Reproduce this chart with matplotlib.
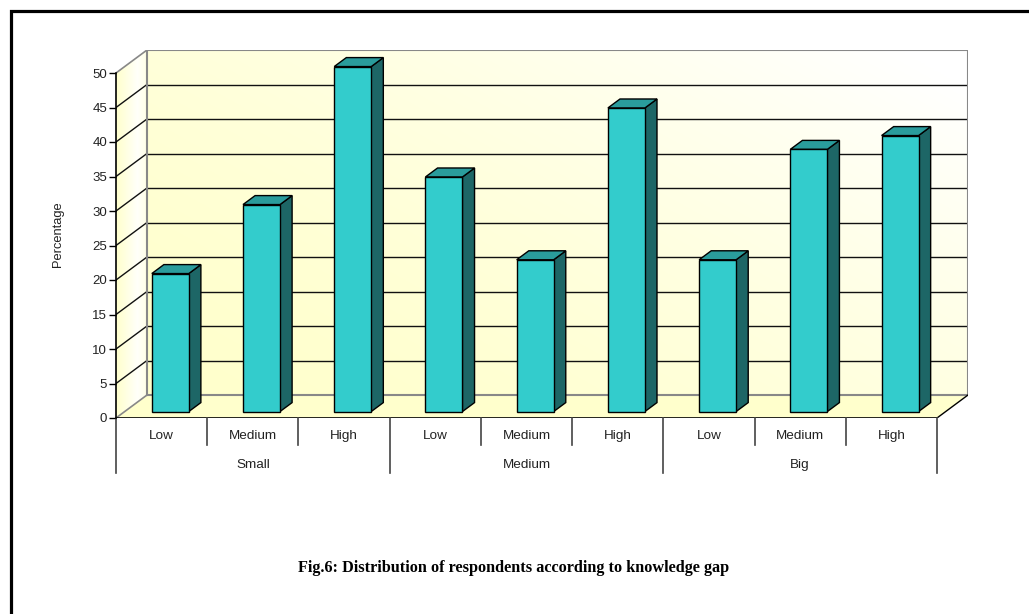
import numpy as np
import matplotlib
matplotlib.use('Agg')
import matplotlib.pyplot as plt
from matplotlib.patches import Polygon
from matplotlib.lines import Line2D

plt.rcParams['font.family'] = ['Liberation Sans', 'DejaVu Sans']

# data
groups = ['Small', 'Medium', 'Big']
levels = ['Low', 'Medium', 'High']
percentages = [20, 30, 50, 34, 22, 44, 22, 38, 40]
y_ticks = list(range(0, 55, 5))
y_max = 50

W, H = 1029, 614
fig = plt.figure(figsize=(W / 100, H / 100), dpi=100)
fig.patch.set_facecolor('white')

# plot box in pixels: front axis 116..937, value 0 at y=418, 50 at y=73
left_px, right_px, base_px, top_px = 116, 937, 418, 73
depth_px = (31, 23)  # perspective offset of the back wall
ax = fig.add_axes([left_px / W, (H - base_px) / H,
                   (right_px - left_px + depth_px[0]) / W,
                   (base_px - top_px + depth_px[1]) / H])
ax.patch.set_visible(False)

n = len(percentages)
px_x = (right_px - left_px) / n
px_y = (base_px - top_px) / y_max
ddx = depth_px[0] / px_x
ddy = depth_px[1] / px_y

yellow = np.array([1.0, 1.0, 0.80])
white = np.ones(3)


def gradient(tx, ty, power=1.0):
    gx, gy = np.meshgrid(np.linspace(0, 1, 256), np.linspace(0, 1, 256))
    t = np.clip(tx * gx + ty * gy, 0, 1) ** power
    t = t[..., None]
    return yellow * (1 - t) + white * t


# back wall
ax.imshow(gradient(0.6, 0.45, 1.6), extent=[ddx, n + ddx, ddy, y_max + ddy],
          origin='lower', aspect='auto', interpolation='bilinear', zorder=0)

# left side wall
side = Polygon([(0, 0), (ddx, ddy), (ddx, y_max + ddy), (0, y_max)],
               closed=True, facecolor='none', edgecolor='none')
ax.add_patch(side)
gx = np.linspace(0, 1, 64)
tside = np.clip(1 - np.abs(gx - 0.7) / 0.7, 0, 1) * 0.9
side_img = yellow * (1 - tside[:, None]) + white * tside[:, None]
im = ax.imshow(side_img[None, :, :], extent=[0, ddx, 0, y_max + ddy],
               origin='lower', aspect='auto', interpolation='bilinear', zorder=0)
im.set_clip_path(side)

# floor
floor = Polygon([(0, 0), (n, 0), (n + ddx, ddy), (ddx, ddy)], closed=True,
                facecolor='#FFFFCC', edgecolor='none', zorder=0.5)
ax.add_patch(floor)

# gridlines on back wall and side wall
for v in y_ticks[1:-1]:
    ax.plot([ddx, n + ddx], [v + ddy, v + ddy], color='#111111', lw=1, zorder=1)
    ax.plot([0, ddx], [v, v + ddy], color='#111111', lw=1, zorder=1)

grey = '#888888'
ax.plot([ddx, n + ddx, n + ddx, ddx, ddx],
        [ddy, ddy, y_max + ddy, y_max + ddy, ddy], color=grey, lw=1.5, zorder=1.2)
ax.plot([0, ddx], [y_max, y_max + ddy], color=grey, lw=1.2, zorder=1.2)
ax.plot([0, ddx], [0, ddy], color=grey, lw=1.2, zorder=1.2)
ax.plot([0, n], [0, 0], color='black', lw=1.2, zorder=1.3)
ax.plot([n, n + ddx], [0, ddy], color='black', lw=1.0, zorder=1.3)

# bars
front_col, side_col, top_col = '#33CCCC', '#1D6666', '#2A9C9C'
half_w = 18.5 / px_x
d0, dbar = 0.28, 0.39
for i, v in enumerate(percentages):
    ox, oy = d0 * ddx, d0 * ddy
    bx, by = dbar * ddx, dbar * ddy
    x0 = i + 0.5 - half_w + ox
    x1 = i + 0.5 + half_w + ox
    y0, y1 = oy, oy + v
    kw = dict(closed=True, edgecolor='black', lw=1.0, zorder=3, joinstyle='miter')
    ax.add_patch(Polygon([(x1, y0), (x1 + bx, y0 + by), (x1 + bx, y1 + by), (x1, y1)],
                         facecolor=side_col, **kw))
    ax.add_patch(Polygon([(x0, y1), (x1, y1), (x1 + bx, y1 + by), (x0 + bx, y1 + by)],
                         facecolor=top_col, **kw))
    ax.add_patch(Polygon([(x0, y0), (x1, y0), (x1, y1), (x0, y1)],
                         facecolor=front_col, **kw))

# value axis
for s in ['top', 'right', 'bottom']:
    ax.spines[s].set_visible(False)
ax.spines['left'].set_bounds(0, y_max)
ax.spines['left'].set_color('black')
ax.spines['left'].set_linewidth(1.2)
ax.spines['left'].set_zorder(4)
ax.set_yticks(y_ticks)
ax.set_xticks([])
ax.tick_params(axis='y', length=5, width=1, pad=1.5, labelsize=9.5,
               colors='black', labelcolor='#222222')
ax.set_ylabel('Percentage', fontsize=9.3, labelpad=20, color='#222222')

ax.set_xlim(0, n + ddx)
ax.set_ylim(0, y_max + ddy)

# two-level category axis below the floor
sep_col = '#444444'
for k in range(n + 1):
    depth = -55 if k % len(levels) == 0 else -27
    ax.plot([k, k], [0, depth / px_y], color=sep_col, lw=1.2, clip_on=False, zorder=2)

for i in range(n):
    ax.text(i + 0.5, -18 / px_y, levels[i % len(levels)], ha='center', va='center',
            fontsize=9.7, color='#222222', clip_on=False)
for g, name in enumerate(groups):
    ax.text(g * len(levels) + len(levels) / 2, -47 / px_y, name, ha='center',
            va='center', fontsize=9.7, color='#222222', clip_on=False)

# frame lines of the figure box
fig.add_artist(Line2D([11 / W, 11 / W, 1], [0, 1 - 10.5 / H, 1 - 10.5 / H],
                      color='black', lw=2.3, solid_joinstyle='miter',
                      transform=fig.transFigure))

fig.text(514 / W, 1 - 568 / H, 'Fig.6: Distribution of respondents according to knowledge gap',
         ha='center', va='center', fontsize=11.7, fontweight='bold',
         family=['Liberation Serif', 'DejaVu Serif'])

fig.savefig('out.png', dpi=100)
